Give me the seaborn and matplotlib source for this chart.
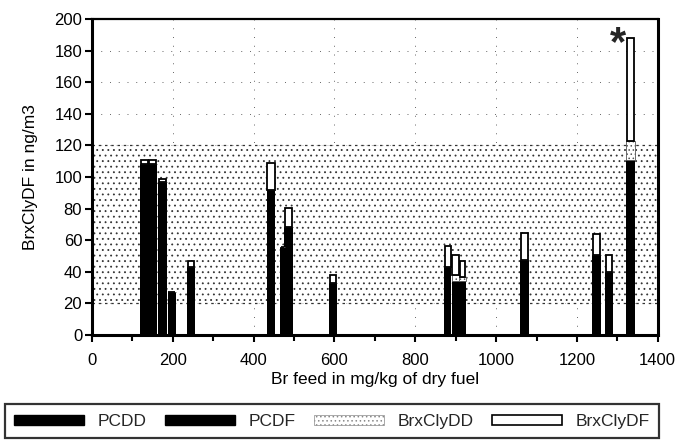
import matplotlib
matplotlib.use('Agg')
import matplotlib.pyplot as plt
import seaborn as sns
from matplotlib.patches import Patch
from matplotlib.ticker import MultipleLocator

# Br feed (mg/kg dry fuel) for each bar, and the stacked congener sums in ng/m3
br_feed = [130, 150, 175, 197, 245, 443, 471, 486, 597, 880, 900, 917, 1070, 1249, 1280, 1333]
pcdd = [45, 44, 40, 11, 18, 38, 23, 28, 14, 18, 14, 14, 20, 21, 17, 46]
pcdf = [63, 64, 57, 16, 25, 54, 33, 40.5, 19, 25, 20, 20, 27.5, 29.5, 23, 65]
brclydd = [0, 0, 0, 0, 0, 0, 0, 0, 0, 0, 4, 3, 0, 0, 0, 12]
brclydf = [3, 3, 1.7, 0, 3.6, 16.8, 0, 12, 5, 13.3, 12.5, 10, 17, 13.7, 10.6, 65]
labels = ['PCDD', 'PCDF', 'BrxClyDD', 'BrxClyDF']

# bar widths in data units (style only)
bar_w = [20, 20, 21, 20, 21, 22, 11, 22, 19, 19, 20, 18, 22, 21, 20, 21]

sns.set_theme(style='white')
plt.rcParams['font.family'] = ['Liberation Sans', 'DejaVu Sans']
plt.rcParams['hatch.linewidth'] = 0.6

fig = plt.figure(figsize=(6.76, 4.42), dpi=100)
ax = fig.add_axes([0.136, 0.242, 0.837, 0.715])

# sparse dotted grid and stippled reference band 20-120
ax.grid(True, ls=(0, (1, 8)), color='#666666', lw=0.7)
ax.set_axisbelow(True)
ax.axhspan(20, 120, facecolor='white', edgecolor='#333333', hatch='...', lw=0.9, ls=(0, (2, 3)), zorder=1)

bottom2 = [a + b for a, b in zip(pcdd, pcdf)]
bottom3 = [a + b for a, b in zip(bottom2, brclydd)]
ax.bar(br_feed, pcdd, width=bar_w, color='black', lw=0, zorder=3)
ax.bar(br_feed, pcdf, width=bar_w, bottom=pcdd, color='black', lw=0, zorder=3)
ax.bar(br_feed, brclydd, width=bar_w, bottom=bottom2, facecolor='white',
       edgecolor='#555555', hatch='....', lw=0.6, zorder=3)
ax.bar(br_feed, brclydf, width=[w * 0.8 for w in bar_w], bottom=bottom3,
       facecolor='white', edgecolor='black', lw=1.3, zorder=3)

ax.text(1302, 184, '*', fontsize=30, fontweight='bold', ha='center', va='center')

ax.set_xlim(0, 1400)
ax.set_ylim(0, 200)
ax.xaxis.set_major_locator(MultipleLocator(200))
ax.xaxis.set_minor_locator(MultipleLocator(100))
ax.yaxis.set_major_locator(MultipleLocator(20))
ax.tick_params(axis='both', which='both', bottom=True, left=True, direction='out',
               length=5, width=1.5, labelsize=12, color='black', labelcolor='black')
ax.tick_params(axis='x', which='minor', length=4)
ax.tick_params(axis='x', pad=8)
ax.tick_params(axis='y', pad=2)
for side in ['left', 'right', 'bottom']:
    ax.spines[side].set_linewidth(2.2)
    ax.spines[side].set_color('black')
ax.spines['top'].set_linewidth(1.6)
ax.spines['top'].set_color('black')

ax.set_xlabel('Br feed in mg/kg of dry fuel', fontsize=12.5, color='black', labelpad=3)
ax.set_ylabel('BrxClyDF in ng/m3', fontsize=12.5, color='black', labelpad=12)

handles = [Patch(facecolor='black', edgecolor='black'),
           Patch(facecolor='black', edgecolor='black'),
           Patch(facecolor='white', edgecolor='#888888', hatch='....', lw=0.5),
           Patch(facecolor='white', edgecolor='black', lw=1.2)]
leg = fig.legend(handles, labels, loc='lower left', bbox_to_anchor=(0.007, 0.008, 0.968, 0.095),
                 mode='expand', ncol=4, frameon=True, fancybox=False, edgecolor='black',
                 handlelength=4, handleheight=0.5, fontsize=12.5, borderaxespad=0, borderpad=0.55)
leg.get_frame().set_linewidth(1.6)

fig.savefig('out.png', dpi=100)
